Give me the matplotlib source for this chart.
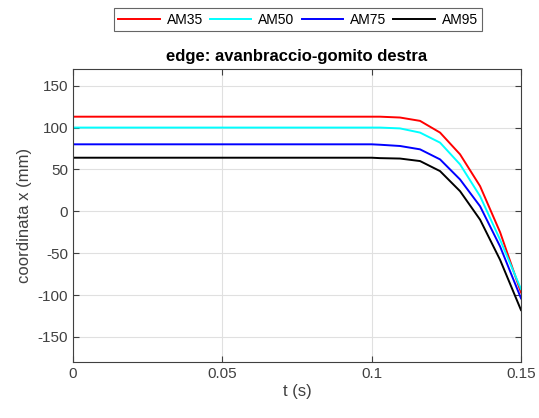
import matplotlib.pyplot as plt

plt.rcParams['font.family'] = ['Liberation Sans', 'DejaVu Sans']
plt.rcParams['axes.unicode_minus'] = False

# dati
t = [0, 0.1, 0.1028, 0.1095, 0.1162, 0.1229, 0.1296, 0.1363, 0.143, 0.15]
am35 = [113, 113, 113, 112, 108, 94, 68, 30, -25, -97]
am50 = [100, 100, 100, 99, 94, 82, 56, 18, -34, -93]
am75 = [80, 80, 79.5, 78, 74, 62, 38, 6, -42, -104]
am95 = [64, 64, 63.5, 63, 60, 48, 24, -10, -58, -118]

series = [('AM35', am35, 'red'), ('AM50', am50, 'cyan'),
          ('AM75', am75, 'blue'), ('AM95', am95, 'black')]

fig = plt.figure(figsize=(5.39, 4.18), dpi=100)
ax = fig.add_axes([0.1354, 0.134, 0.8312, 0.701])

for name, y, c in series:
    ax.plot(t, y, color=c, lw=1.4, label=name)

ax.set_xlim(0, 0.15)
ax.set_ylim(-180, 170)
ax.set_xticks([0, 0.05, 0.1, 0.15])
ax.set_xticklabels(['0', '0.05', '0.1', '0.15'])
ax.set_yticks([-150, -100, -50, 0, 50, 100, 150])
ax.grid(True, color='#e0e0e0', lw=0.8)
ax.tick_params(direction='in', top=True, right=True, labelsize=11,
               colors='#404040', length=4)
for s in ax.spines.values():
    s.set_color('#404040')
    s.set_linewidth(0.8)
ax.set_xlabel('t (s)', fontsize=12, color='#404040', labelpad=2)
ax.set_ylabel('coordinata x (mm)', fontsize=12, color='#404040')
ax.set_title('edge: avanbraccio-gomito destra', fontsize=12, fontweight='bold', pad=6)

leg = fig.legend(loc='center', bbox_to_anchor=(0.553, 0.953), ncol=4, fontsize=10,
                 frameon=True, fancybox=False, edgecolor='#404040',
                 handlelength=3, columnspacing=0.5, borderpad=0.3, handletextpad=0.5)
leg.get_frame().set_linewidth(0.8)

plt.savefig('out.png', dpi=100)
